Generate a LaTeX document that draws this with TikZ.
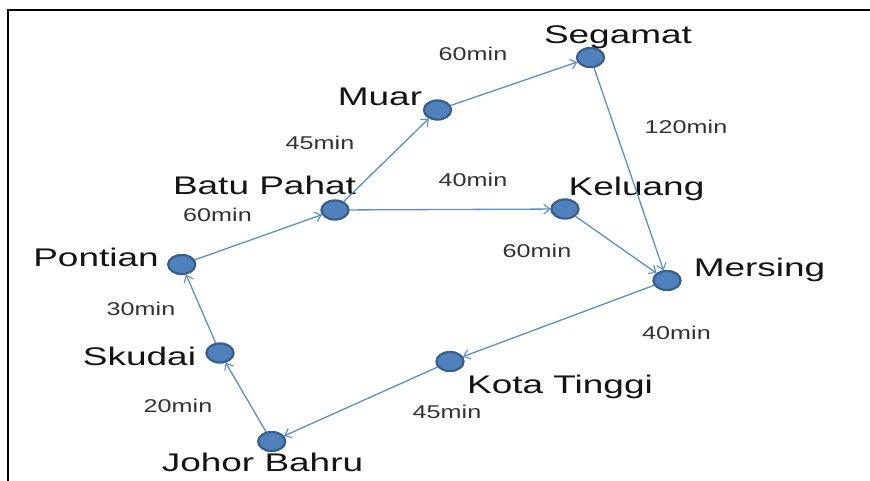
\documentclass[tikz,border=0pt]{standalone}
\usepackage{fontspec}
\usetikzlibrary{shapes.geometric,arrows.meta}
\newfontfamily\cityfont[FakeStretch=1.45]{Liberation Sans}
\newfontfamily\timefont[FakeStretch=1.36]{Liberation Sans}
\definecolor{nodefill}{HTML}{4F81BD}
\definecolor{nodeline}{HTML}{385D8A}
\definecolor{edgecol}{HTML}{5B8FCC}
\definecolor{citytext}{HTML}{141414}
\definecolor{timetext}{HTML}{333333}
\tikzset{
  city/.style={ellipse,fill=nodefill,draw=nodeline,line width=2pt,minimum width=27pt,minimum height=19pt,inner sep=0pt},
  citylabel/.style={anchor=base,inner sep=0pt,text=citytext,font=\cityfont\fontsize{25.5}{30}\selectfont},
  timelabel/.style={anchor=base,inner sep=0pt,text=timetext,font=\timefont\fontsize{18.5}{22}\selectfont},
  road/.style={draw=edgecol,line width=1.3pt,-{Straight Barb[length=6pt,width=10pt,line width=1.1pt]}}
}
\begin{document}
\begin{tikzpicture}[x=1pt,y=-1pt]
\useasboundingbox (0,0) rectangle (870,481);
\fill[white] (0,0) rectangle (870,481);
\draw[line width=2.2pt,black] (7.8,481) -- (7.8,9.7) -- (870,9.7);
% nodes
\node[city] (seg) at (590.5,57.5) {};
\node[city] (muar) at (437.5,110) {};
\node[city] (bp) at (335,210) {};
\node[city] (kel) at (565,209) {};
\node[city] (mer) at (667,280.5) {};
\node[city] (pon) at (181.7,264.5) {};
\node[city] (sku) at (220,353) {};
\node[city] (kt) at (450,361.5) {};
\node[city] (jb) at (271.7,441.5) {};
% city labels
\node[citylabel] (lseg) at (618,43.3) {Segamat};
\node[citylabel] (lmuar) at (380,106) {Muar};
\node[citylabel] (lbp) at (264.5,195) {Batu Pahat};
\node[citylabel] (lkel) at (636.5,196) {Keluang};
\node[citylabel] (lmer) at (759.5,276.7) {Mersing};
\node[citylabel] (lpon) at (96,266.7) {Pontian};
\node[citylabel] (lsku) at (139.5,365) {Skudai};
\node[citylabel] (lkt) at (560,393) {Kota Tinggi};
\node[citylabel] (ljb) at (262.5,471.7) {Johor Bahru};
% time labels
\node[timelabel] (t1) at (473,60.7) {60min};
\node[timelabel] (t2) at (686,134) {120min};
\node[timelabel] (t3) at (320,150) {45min};
\node[timelabel] (t4) at (473,187) {40min};
\node[timelabel] (t5) at (217.5,221.7) {60min};
\node[timelabel] (t6) at (537,257) {60min};
\node[timelabel] (t7) at (141,315) {30min};
\node[timelabel] (t8) at (676.5,339) {40min};
\node[timelabel] (t9) at (178,412) {20min};
\node[timelabel] (t10) at (447,418) {45min};
% roads
\draw[road] (pon) -- (bp);
\draw[road] (bp) -- (muar);
\draw[road] (muar) -- (seg);
\draw[road] (bp) -- (kel);
\draw[road] (seg) -- (mer);
\draw[road] (kel) -- (mer);
\draw[road] (mer) -- (kt);
\draw[road] (kt) -- (jb);
\draw[road] (jb) -- (sku);
\draw[road] (sku) -- (pon);
% redraw nodes on top
\foreach \n/\x/\y in {seg/590.5/57.5,muar/437.5/110,bp/335/210,kel/565/209,mer/667/280.5,pon/181.7/264.5,sku/220/353,kt/450/361.5,jb/271.7/441.5}
  \node[city] at (\x,\y) {};
\end{tikzpicture}
\end{document}
